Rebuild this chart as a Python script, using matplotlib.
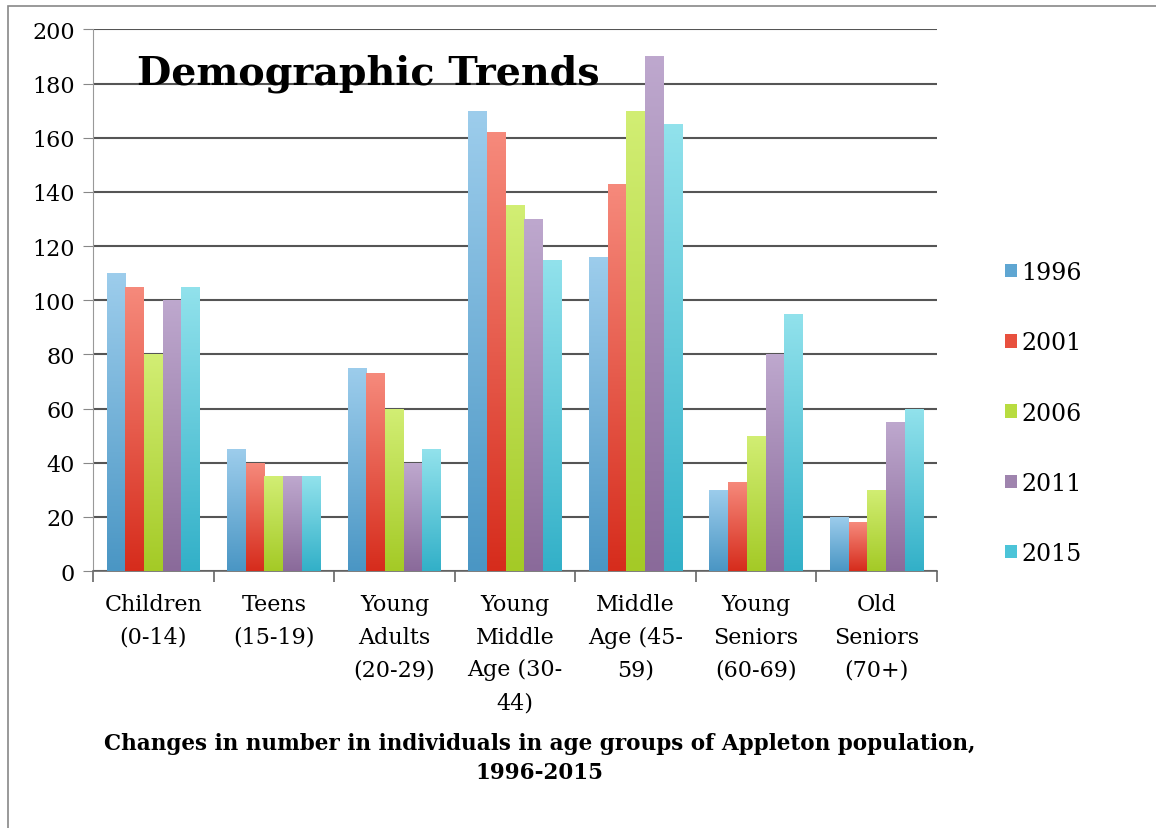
import numpy as np
import matplotlib
matplotlib.use("Agg")
import matplotlib.pyplot as plt
from matplotlib.colors import LinearSegmentedColormap
from matplotlib.patches import Patch, Rectangle

categories = ["Children\n(0-14)", "Teens\n(15-19)", "Young\nAdults\n(20-29)",
              "Young\nMiddle\nAge (30-\n44)", "Middle\nAge (45-\n59)",
              "Young\nSeniors\n(60-69)", "Old\nSeniors\n(70+)"]
years = ["1996", "2001", "2006", "2011", "2015"]

v1996 = [110, 45, 75, 170, 116, 30, 20]
v2001 = [105, 40, 73, 162, 143, 33, 18]
v2006 = [80, 35, 60, 135, 170, 50, 30]
v2011 = [100, 35, 40, 130, 190, 80, 55]
v2015 = [105, 35, 45, 115, 165, 95, 60]
series = [v1996, v2001, v2006, v2011, v2015]

# (bottom colour, top colour) for the gradient fill
grads = [("#4a96c4", "#9dcdec"),
         ("#d62c1c", "#f68a7c"),
         ("#a4ca26", "#d2ee74"),
         ("#8a6a9a", "#bea8ce"),
         ("#32b0c8", "#92e2ec")]
solid = ["#5fa6d2", "#e8503e", "#b8dc40", "#9f84ae", "#4cc4d8"]

plt.rcParams["font.family"] = "DejaVu Serif"

fig = plt.figure(figsize=(11.56, 8.29), dpi=100)
ax = fig.add_axes([0.0804, 0.31, 0.7302, 0.6534])

x = np.arange(len(categories))
w = 0.155
grad = np.linspace(0, 1, 256).reshape(-1, 1)

for j, (vals, (c0, c1)) in enumerate(zip(series, grads)):
    cmap = LinearSegmentedColormap.from_list("g%d" % j, [c0, c1])
    bars = ax.bar(x + (j - 2) * w, vals, width=w, color=solid[j], zorder=3)
    for b in bars:
        bx, by = b.get_x(), b.get_y()
        bw, bh = b.get_width(), b.get_height()
        im = ax.imshow(grad, cmap=cmap, origin="lower", aspect="auto",
                       extent=[bx, bx + bw, by, by + bh], zorder=3.5)
        im.set_clip_path(b)

ax.set_xlim(-0.5, 6.5)
ax.set_ylim(0, 200)
ax.set_yticks(range(0, 201, 20))
ax.yaxis.grid(True, color="#555555", linewidth=1.5, zorder=1)
ax.set_axisbelow(True)

ax.set_xticks(np.arange(-0.5, 7, 1))
ax.set_xticklabels([])
ax.set_xticks(x, minor=True)
ax.set_xticklabels(categories, minor=True, fontsize=16, linespacing=1.62,
                   va="top")
ax.tick_params(axis="x", which="minor", length=0, pad=16)
ax.tick_params(axis="x", which="major", length=8, color="#666666", width=1.2)
ax.tick_params(axis="y", length=7, color="#888888", labelsize=16, pad=6)

for s in ["top", "right"]:
    ax.spines[s].set_visible(False)
ax.spines["left"].set_color("#999999")
ax.spines["bottom"].set_color("#666666")
ax.spines["bottom"].set_linewidth(1.2)

ax.text(0.052, 0.955, "Demographic Trends", transform=ax.transAxes,
        fontsize=28.5, fontweight="bold", va="top", ha="left", zorder=5)

handles = [Patch(facecolor=c) for c in solid]
fig.legend(handles, years, loc="center left", bbox_to_anchor=(0.851, 0.5005),
           frameon=False, fontsize=17, handlelength=0.5, handleheight=0.5,
           handletextpad=0.2, labelspacing=2.0)

fig.text(0.467, 0.085, "Changes in number in individuals in age groups of Appleton population,\n1996-2015",
         ha="center", va="center", fontsize=15.5, fontweight="bold",
         linespacing=1.42)

fig.patches.append(Rectangle((8 / 1156, -0.1), 1.2, 1.1 - 7 / 829,
                             transform=fig.transFigure, fill=False,
                             edgecolor="#888888", linewidth=1.2))

fig.savefig("out.png", dpi=100)
